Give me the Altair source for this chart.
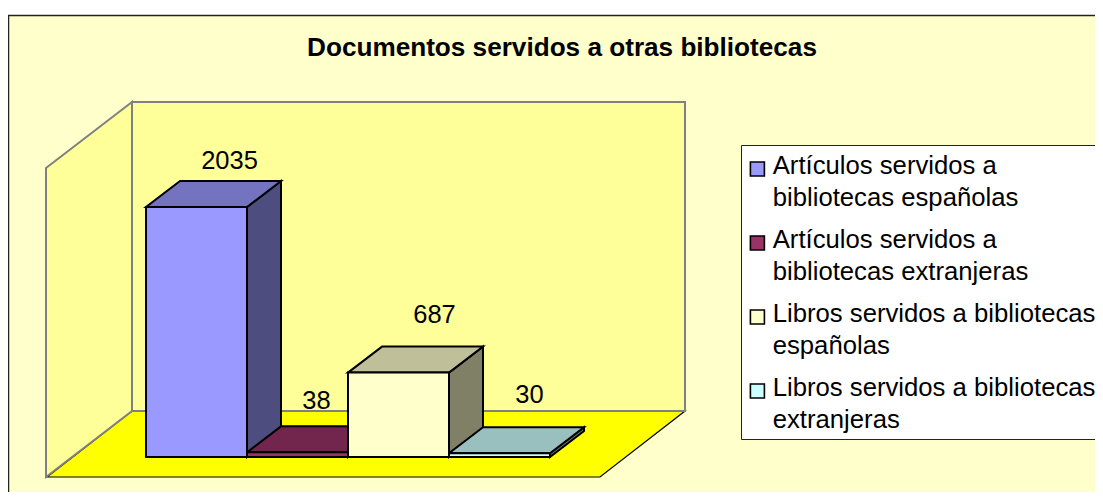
import json
import altair as alt
import pandas as pd

TITLE = "Documentos servidos a otras bibliotecas"
series = [
    "Artículos servidos a bibliotecas españolas",
    "Artículos servidos a bibliotecas extranjeras",
    "Libros servidos a bibliotecas españolas",
    "Libros servidos a bibliotecas extranjeras",
]
wrapped = {
    series[0]: ["Artículos servidos a", "bibliotecas españolas"],
    series[1]: ["Artículos servidos a", "bibliotecas extranjeras"],
    series[2]: ["Libros servidos a bibliotecas", "españolas"],
    series[3]: ["Libros servidos a bibliotecas", "extranjeras"],
}
values = [2035, 38, 687, 30]
front_colors = ["#9999FF", "#993366", "#FFFFCC", "#CCFFFF"]
top_colors = ["#7373BF", "#73264D", "#BFBF99", "#99BFBF"]
side_colors = ["#4D4D80", "#4D1A33", "#808066", "#668080"]
label_dx = [-1, -15, 2, -4]
label_dy = [12, 17, 24, 24]

W, H = 1087, 484
BAR_W = 101.0
K = 250 / 2035


def ux(px):
    return (px - 146) / BAR_W


def uy(py):
    return (457 - py) / K


DX, DY = 34 / BAR_W, 26 / K

x_scale = alt.Scale(domain=[ux(8), ux(8 + W)], range=[0, W], nice=False, zero=False)
y_scale = alt.Scale(domain=[uy(8 + H), uy(8)], range=[H, 0], nice=False, zero=False)
X = alt.X("x:Q", scale=x_scale, axis=None)
Y = alt.Y("y:Q", scale=y_scale, axis=None)

frame = alt.Chart(pd.DataFrame({"a": [0]})).mark_rect(
    fill="#FFFFCC", stroke="#222222", strokeWidth=1.5, clip=True
).encode(x=alt.value(0.5), x2=alt.value(1300), y=alt.value(7.5), y2=alt.value(700))

floor = alt.Chart(pd.DataFrame({
    "y": [uy(477), uy(411)], "x": [ux(47), ux(132)], "x2": [ux(600), ux(685)],
})).mark_area(orient="horizontal", fill="#FFFF00", stroke="#000000", strokeWidth=1.2).encode(
    y=Y, x=alt.X("x:Q", scale=x_scale, axis=None), x2="x2:Q")

left_wall = alt.Chart(pd.DataFrame({
    "x": [ux(46), ux(132)], "y": [uy(168), uy(102)], "y2": [uy(477), uy(411)],
})).mark_area(fill="#FFFF99", stroke="#808080", strokeWidth=2).encode(x=X, y=Y, y2="y2:Q")

back_wall = alt.Chart(pd.DataFrame({
    "x": [ux(132)], "x2": [ux(685)], "y": [uy(102)], "y2": [uy(411)],
})).mark_rect(fill="#FFFF99", stroke="#808080", strokeWidth=2).encode(x=X, x2="x2:Q", y=Y, y2="y2:Q")

front_rows, top_rows, side_rows, label_rows = [], [], [], []
for i, (s, v) in enumerate(zip(series, values)):
    front_rows.append({"series": s, "x": i, "x2": i + 1, "y": 0, "y2": v})
    top_rows += [
        {"bar": i, "shade": top_colors[i], "y": v, "x": i, "x2": i + 1},
        {"bar": i, "shade": top_colors[i], "y": v + DY, "x": i + DX, "x2": i + 1 + DX},
    ]
    side_rows += [
        {"bar": i, "shade": side_colors[i], "x": i + 1, "y": v, "y2": 0},
        {"bar": i, "shade": side_colors[i], "x": i + 1 + DX, "y": v + DY, "y2": DY},
    ]
    label_rows.append({
        "x": i + 0.5 + DX + label_dx[i] / BAR_W,
        "y": v + DY + label_dy[i] / K,
        "value": v,
    })

sides = alt.Chart(pd.DataFrame(side_rows)).mark_area(stroke="#000000", strokeWidth=2).encode(
    x=X, y=Y, y2="y2:Q", detail="bar:N", fill=alt.Fill("shade:N", scale=None))
tops = alt.Chart(pd.DataFrame(top_rows)).mark_area(
    orient="horizontal", stroke="#000000", strokeWidth=2
).encode(y=Y, x=X, x2="x2:Q", detail="bar:N", fill=alt.Fill("shade:N", scale=None))

legend = alt.Legend(
    title=" ", titleFontSize=1, titlePadding=9,
    orient="none", legendX=733, legendY=137, padding=6,
    fillColor="#FFFFFF", strokeColor="#222222",
    symbolType="M-1.35,-1.7H0.65V0.3H-1.35Z", symbolSize=196,
    symbolStrokeColor="#000000", symbolStrokeWidth=1.6,
    labelFont="Liberation Sans", labelFontSize=25.7, labelColor="#000000", labelLimit=0,
    labelOffset=0, rowPadding=15, labelBaseline="alphabetic",
    labelExpr="%s[datum.label]" % json.dumps(wrapped, ensure_ascii=False),
)
fronts = alt.Chart(pd.DataFrame(front_rows)).mark_rect(stroke="#000000", strokeWidth=2).encode(
    x=X, x2="x2:Q", y=Y, y2="y2:Q",
    fill=alt.Fill("series:N", sort=series, legend=legend,
                  scale=alt.Scale(domain=series, range=front_colors)),
)
labels = alt.Chart(pd.DataFrame(label_rows)).mark_text(
    font="Liberation Sans", fontSize=25.5, color="#000000", align="center", baseline="alphabetic"
).encode(x=X, y=Y, text="value:Q")

chart = alt.layer(frame, floor, left_wall, back_wall, sides, tops, fronts, labels).resolve_scale(
    fill="independent"
).properties(
    width=W, height=H, padding=0, background="#FFFFFF",
    autosize=alt.AutoSizeParams(type="none"),
    title=alt.TitleParams(TITLE, font="Liberation Sans", fontSize=26.15, fontWeight="bold",
                          color="#000000", anchor="middle", dx=10.5, offset=-74, baseline="alphabetic"),
).configure(style={"guide-label": {"lineHeight": 32}}, view={"stroke": None})

chart.save("out.html", embed_options={"renderer": "svg", "actions": False})
